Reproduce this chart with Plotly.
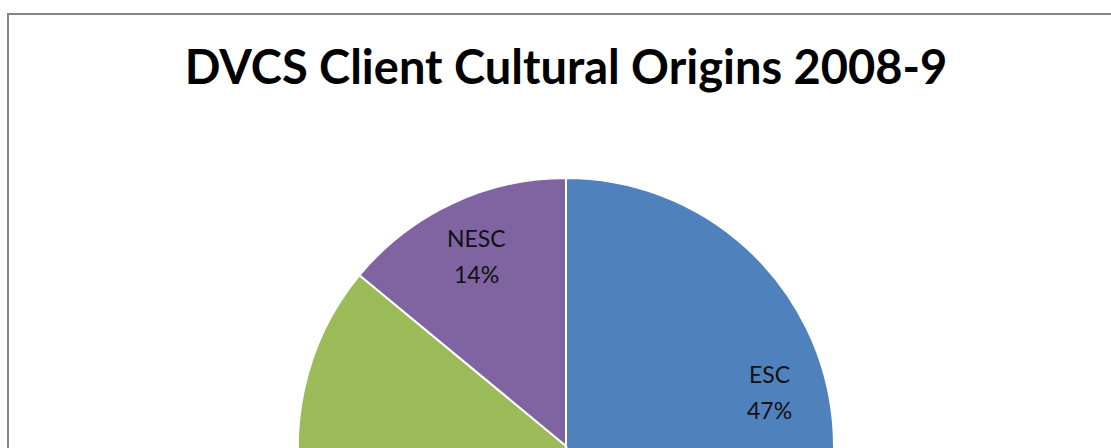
import math
import plotly.graph_objects as go

# Client cultural origins, 2008-9 (share of clients, %)
categories = ["ESC", "ATSI", "Not stated", "NESC"]
shares = [47, 6, 33, 14]
colors = ["#4F81BD", "#C0504D", "#9BBB59", "#8064A2"]

title_text = "DVCS Client Cultural Origins 2008-9"

W, H = 1111, 760
cx, cy, r = 566, 446, 268  # pie centre and radius in pixels

# data-label placement: distance from centre (fraction of radius) and
# a small angular nudge (degrees) for labels pushed away from the rim
label_radius = 0.785
label_nudge = {"ESC": -9.5}
label_font = dict(family="Lato", size=23, color="#111111")
line_gap = 18  # half the distance between the two label lines

fig = go.Figure(
    go.Pie(
        labels=categories,
        values=shares,
        sort=False,
        direction="clockwise",
        rotation=0,
        marker=dict(colors=colors, line=dict(color="white", width=2)),
        textinfo="none",
        domain=dict(
            x=[(cx - r) / W, (cx + r) / W],
            y=[(H - (cy + r)) / H, (H - (cy - r)) / H],
        ),
        showlegend=False,
        hoverinfo="label+percent",
    )
)

# data labels: category name above, rounded percentage below
total = sum(shares)
annotations = []
start = 0.0
for name, val in zip(categories, shares):
    frac = val / total
    mid = (start + frac / 2) * 360 + label_nudge.get(name, 0.0)
    start += frac
    px = cx + label_radius * r * math.sin(math.radians(mid))
    py = cy - label_radius * r * math.cos(math.radians(mid))
    for txt, off in ((name, -line_gap), (f"{round(frac * 100)}%", line_gap)):
        annotations.append(
            dict(
                text=txt,
                x=px / W,
                y=(H - (py + off)) / H,
                xref="paper",
                yref="paper",
                xanchor="center",
                yanchor="middle",
                showarrow=False,
                font=label_font,
            )
        )

fig.update_layout(
    width=W,
    height=H,
    autosize=False,
    margin=dict(l=0, r=0, t=0, b=0),
    paper_bgcolor="white",
    plot_bgcolor="white",
    title=dict(
        text=title_text,
        x=cx / W,
        xanchor="center",
        y=(H - 68) / H,
        yanchor="middle",
        font=dict(family="Lato", size=47, color="black", weight="bold"),
    ),
    annotations=annotations,
    shapes=[
        dict(
            type="rect",
            xref="paper",
            yref="paper",
            x0=8 / W,
            x1=(W + 20) / W,
            y0=(H - 745) / H,
            y1=(H - 14) / H,
            line=dict(color="#868686", width=2),
            fillcolor="rgba(0,0,0,0)",
        )
    ],
)

fig.write_html(
    "out.html",
    post_script="document.documentElement.style.overflow='hidden';document.body.style.overflow='hidden';",
)
